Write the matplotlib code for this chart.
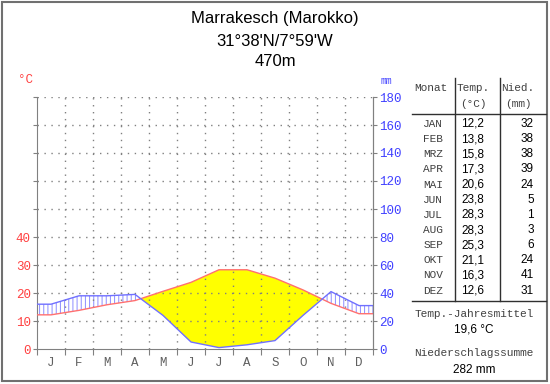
import matplotlib
matplotlib.use('Agg')
import matplotlib.pyplot as plt
import matplotlib.patches as mpatches
import numpy as np

# Klimadaten Marrakesch
monate = ['JAN', 'FEB', 'MRZ', 'APR', 'MAI', 'JUN', 'JUL', 'AUG', 'SEP', 'OKT', 'NOV', 'DEZ']
achse_monate = ['J', 'F', 'M', 'A', 'M', 'J', 'J', 'A', 'S', 'O', 'N', 'D']
temp = [12.2, 13.8, 15.8, 17.3, 20.6, 23.8, 28.3, 28.3, 25.3, 21.1, 16.3, 12.6]
nied = [32, 38, 38, 39, 24, 5, 1, 3, 6, 24, 41, 31]
temp_labels = ['0', '10', '20', '30', '40']
mm_ticks = [0, 20, 40, 60, 80, 100, 120, 140, 160, 180]

titel = ['Marrakesch (Marokko)', "31°38'N/7°59'W", '470m']
jahresmittel = '19,6 °C'
summe = '282 mm'

W, H = 550, 384
MONO = 'Liberation Mono'
SANS = 'Liberation Sans'
ROT = '#ff4040'
BLAU = '#4040ff'
GRAU = '#808080'

plt.rcParams['hatch.linewidth'] = 0.7


def fx(x):
    return x / W


def fy(y):
    return 1 - y / H


fig = plt.figure(figsize=(W / 100, H / 100), dpi=100)
ax = fig.add_axes([fx(37), 35 / H, 336 / W, 252 / H])

# Werte an Monatsmitte, Enden flach bis zum Rand
x = np.concatenate([[0], np.arange(12) + 0.5, [12]])
t2 = np.array([temp[0]] + temp + [temp[-1]]) * 2
p = np.array([nied[0]] + nied + [nied[-1]], dtype=float)

ax.fill_between(x, t2, p, where=p <= t2, interpolate=True,
                facecolor='#ffff00', edgecolor='none', lw=0, zorder=1)
ax.fill_between(x, t2, p, where=p >= t2, interpolate=True,
                facecolor='none', edgecolor='#8c8cff', hatch='||||', lw=0, zorder=1)
ax.plot(x, t2, color='#ff7070', lw=1, zorder=3)
ax.plot(x, p, color='#7070ff', lw=1, zorder=3)

ax.set_xlim(0, 12)
ax.set_ylim(0, 180)

for s in ['left', 'right', 'bottom']:
    ax.spines[s].set_color(GRAU)
ax.spines['top'].set_visible(False)

ax.set_xticks(np.arange(13))
ax.set_xticklabels([])
ax.set_xticks(np.arange(12) + 0.5, minor=True)
ax.set_xticklabels(achse_monate, minor=True, fontfamily=MONO, fontsize=9, color='#606060')
ax.tick_params(axis='x', which='major', length=4, color=GRAU, direction='out')
ax.tick_params(axis='x', which='minor', length=0, pad=6)

ax.set_yticks(mm_ticks)
ax.set_yticklabels(temp_labels + [''] * (len(mm_ticks) - len(temp_labels)),
                   fontfamily=MONO, fontsize=9, color=ROT)
ax.tick_params(axis='y', length=3, color=GRAU, pad=1.5)

ax2 = ax.twinx()
ax2.set_ylim(0, 180)
ax2.set_yticks(mm_ticks)
ax2.set_yticklabels([str(v) for v in mm_ticks], fontfamily=MONO, fontsize=9, color=BLAU)
ax2.tick_params(axis='y', length=3, color=GRAU, pad=1.5)
for s in ['left', 'top', 'bottom']:
    ax2.spines[s].set_visible(False)
ax2.spines['right'].set_color(GRAU)

# gepunktetes Gitter
for yv in mm_ticks[1:]:
    ax.axhline(yv, color=GRAU, lw=1, ls=(0, (1, 4)), zorder=2)
for xv in range(1, 12):
    ax.axvline(xv, color=GRAU, lw=1, ls=(0, (1, 4)), zorder=2)

fig.text(fx(25), fy(80), '°C', color=ROT, fontfamily=MONO, fontsize=9, ha='center', va='center')
fig.text(fx(386), fy(81), 'mm', color=BLAU, fontfamily=MONO, fontsize=7, ha='center', va='center')

for txt, yy in zip(titel, [18, 41, 62]):
    fig.text(0.5, fy(yy), txt, fontfamily=SANS, fontsize=12, ha='center', va='center')

# Tabelle
tc = '#404040'
fig.text(fx(431), fy(88), 'Monat', fontfamily=MONO, fontsize=8, color=tc, ha='center', va='center')
fig.text(fx(473), fy(88), 'Temp.', fontfamily=MONO, fontsize=8, color=tc, ha='center', va='center')
fig.text(fx(473), fy(104), '(°C)', fontfamily=MONO, fontsize=8, color=tc, ha='center', va='center')
fig.text(fx(518), fy(88), 'Nied.', fontfamily=MONO, fontsize=8, color=tc, ha='center', va='center')
fig.text(fx(518), fy(104), '(mm)', fontfamily=MONO, fontsize=8, color=tc, ha='center', va='center')

for i, (m, t, n) in enumerate(zip(monate, temp, nied)):
    yy = fy(124 + 15.15 * i)
    fig.text(fx(443), yy, m, fontfamily=MONO, fontsize=8, color=tc, ha='right', va='center')
    fig.text(fx(484), yy, f'{t:.1f}'.replace('.', ','), fontfamily=SANS, fontsize=8.5,
             ha='right', va='center')
    fig.text(fx(534), yy, str(n), fontfamily=SANS, fontsize=8.5, ha='right', va='center')

fig.add_artist(plt.Line2D([fx(412), fx(546)], [fy(114), fy(114)], color='#303030', lw=1))
fig.add_artist(plt.Line2D([fx(412), fx(546)], [fy(301), fy(301)], color='#303030', lw=1))
fig.add_artist(plt.Line2D([fx(455), fx(455)], [fy(78), fy(301)], color='#303030', lw=1))
fig.add_artist(plt.Line2D([fx(500), fx(500)], [fy(78), fy(301)], color='#303030', lw=1))

fig.text(fx(474), fy(314), 'Temp.-Jahresmittel', fontfamily=MONO, fontsize=8, color=tc,
         ha='center', va='center')
fig.text(fx(474), fy(330), jahresmittel, fontfamily=SANS, fontsize=8.5, ha='center', va='center')
fig.text(fx(474), fy(353), 'Niederschlagssumme', fontfamily=MONO, fontsize=8, color=tc,
         ha='center', va='center')
fig.text(fx(474), fy(370), summe, fontfamily=SANS, fontsize=8.5, ha='center', va='center')

fig.add_artist(mpatches.Rectangle((fx(2), fy(381)), 545 / W, 379 / H, transform=fig.transFigure,
                                  fill=False, edgecolor='#707070', lw=1.5))

fig.savefig('out.png', dpi=100)
